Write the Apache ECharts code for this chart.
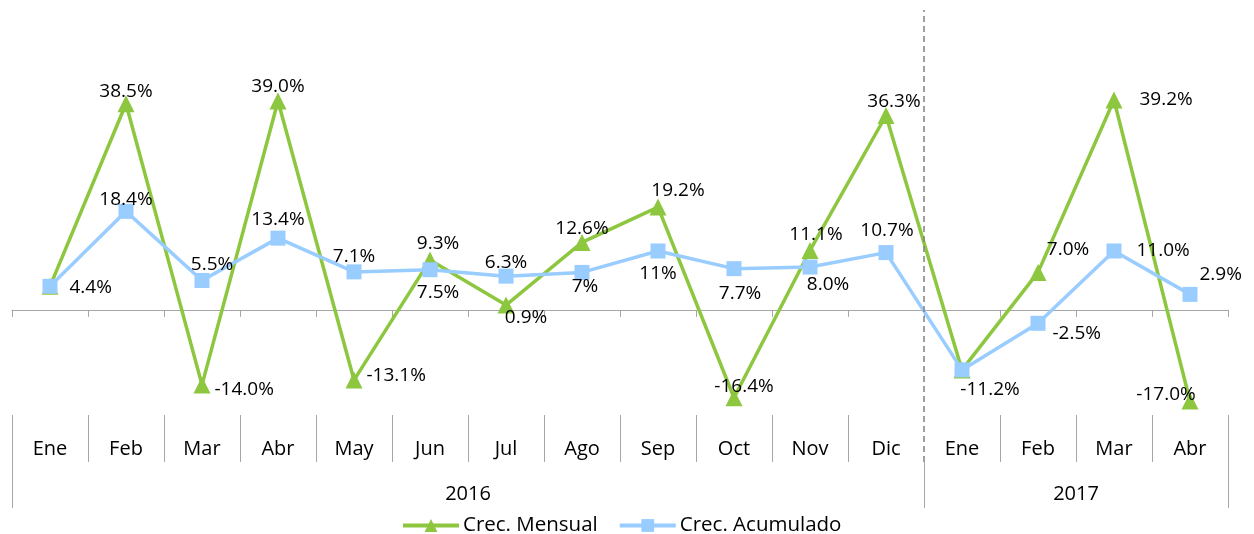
<!DOCTYPE html>
<html><head><meta charset="utf-8">
<script src="https://cdn.jsdelivr.net/npm/echarts@6/dist/echarts.min.js"></script>
<style>html,body{margin:0;padding:0;background:#fff}#c{width:1254px;height:534px}</style>
</head><body><div id="c"></div>
<script>
// ---- data ----
const months = ['Ene','Feb','Mar','Abr','May','Jun','Jul','Ago','Sep','Oct','Nov','Dic','Ene','Feb','Mar','Abr'];
const years = ['2016','2017'];
const yearSpan = [12, 4];
const mensual = [4.4, 38.5, -14.0, 39.0, -13.1, 9.3, 0.9, 12.6, 19.2, -16.4, 11.1, 36.3, -11.2, 7.0, 39.2, -17.0];
const acumulado = [4.4, 18.4, 5.5, 13.4, 7.1, 7.5, 6.3, 7, 11, 7.7, 8.0, 10.7, -11.2, -2.5, 11.0, 2.9];
const mensualText = [null, '38.5%', '-14.0%', '39.0%', '-13.1%', '9.3%', '0.9%', '12.6%', '19.2%', '-16.4%', '11.1%', '36.3%', null, '7.0%', '39.2%', '-17.0%'];
const acumText = ['4.4%', '18.4%', '5.5%', '13.4%', '7.1%', '7.5%', '6.3%', '7%', '11%', '7.7%', '8.0%', '10.7%', '-11.2%', '-2.5%', '11.0%', '2.9%'];

// ---- label layout (style, not data) ----
const mensualLbl = [
  ['top',0,0],['top',0,10],['right',0,5],['top',0,8],['right',0,-4],['top',8,5],['bottom',20,-9],['top',0,8],
  ['top',20,6],['top',10,11],['top',6,6],['top',8,8],['top',0,0],['top',30,-1],['right',13,0],['top',-24,16]
];
const acumLbl = [
  ['right',8,1],['top',0,9],['top',10,5],['top',0,2],['top',0,6],['bottom',8,2],['top',0,7],['bottom',3,-7],
  ['bottom',0,2],['bottom',6,4],['bottom',18,-3],['top',1,-1],['bottom',28,-1],['right',3,10],['right',11,0],['right',-2,-20]
];

const FONT = 'Open Sans';
function items(vals, texts, lbl) {
  return vals.map((v, i) => ({
    value: v,
    label: texts[i] == null ? {show: false} : {
      show: true, position: lbl[i][0], offset: [lbl[i][1], lbl[i][2]], distance: 4,
      formatter: texts[i], color: '#000', fontSize: 19, fontFamily: FONT
    }
  }));
}

const bounds = [0];
yearSpan.forEach(s => bounds.push(bounds[bounds.length - 1] + s));
const centers = yearSpan.map((s, i) => bounds[i] + s / 2);

const chart = echarts.init(document.getElementById('c'));
chart.setOption({
  animation: false,
  textStyle: {fontFamily: FONT},
  grid: {left: 12, right: 26, top: 10, bottom: 72, containLabel: false},
  yAxis: {type: 'value', min: -28.4, max: 56, show: false},
  xAxis: [
    { // zero axis
      type: 'category', data: months, position: 'bottom',
      axisLine: {onZero: true, lineStyle: {color: '#a6a6a6', width: 1}},
      axisTick: {show: true, length: 7, lineStyle: {color: '#a6a6a6'}},
      axisLabel: {show: false}, splitLine: {show: false}
    },
    { // month row
      type: 'category', data: months, position: 'bottom',
      axisLine: {show: false, onZero: false},
      axisTick: {show: true, inside: true, length: 47, interval: (i) => i !== 12, lineStyle: {color: '#a6a6a6'}},
      axisLabel: {show: true, inside: true, margin: 3, fontSize: 20, color: '#000', fontFamily: FONT, interval: 0},
      splitLine: {show: false}
    },
    { // year row
      type: 'value', min: 0, max: 16, position: 'bottom',
      axisLine: {show: false, onZero: false},
      axisTick: {show: true, length: 46, customValues: bounds, lineStyle: {color: '#a6a6a6'}},
      axisLabel: {show: true, margin: 22, fontSize: 20, color: '#000', fontFamily: FONT,
        customValues: centers, formatter: (v) => years[centers.indexOf(v)]},
      splitLine: {show: false}
    }
  ],
  legend: {
    data: ['Crec. Mensual', 'Crec. Acumulado'], bottom: -7, left: 396,
    itemWidth: 56, itemHeight: 16, itemGap: 20,
    lineStyle: {width: 4},
    textStyle: {fontSize: 20.5, color: '#000', fontFamily: FONT, padding: [0, 0, 0, -1]}
  },
  series: [
    {
      name: 'Crec. Mensual', type: 'line', xAxisIndex: 0, yAxisIndex: 0,
      data: items(mensual, mensualText, mensualLbl),
      symbol: 'triangle', symbolSize: 17,
      lineStyle: {color: '#8DC63F', width: 3.5},
      itemStyle: {color: '#8DC63F'},
      z: 2
    },
    {
      name: 'Crec. Acumulado', type: 'line', xAxisIndex: 0, yAxisIndex: 0,
      data: items(acumulado, acumText, acumLbl),
      symbol: 'rect', symbolSize: 15,
      lineStyle: {color: '#99CCFF', width: 3.5},
      itemStyle: {color: '#99CCFF'},
      z: 3
    },
    {
      type: 'line', xAxisIndex: 2, yAxisIndex: 0, data: [], silent: true,
      markLine: {
        silent: true, symbol: ['none', 'none'], label: {show: false},
        lineStyle: {type: [6, 4], color: '#808080', width: 1.5},
        data: [{xAxis: bounds[1]}]
      }
    }
  ]
});
</script>
</body></html>
